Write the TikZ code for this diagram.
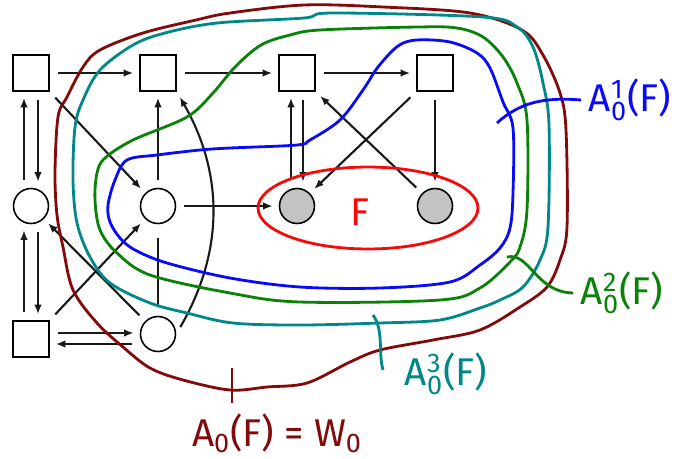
\documentclass[tikz,border=0pt]{standalone}
\usepackage{fontspec}
\setsansfont{Fira Sans}
\setmathsf{Fira Sans}
\usetikzlibrary{arrows.meta,shapes.geometric,calc}
\definecolor{aoneclr}{RGB}{10,10,250}
\definecolor{atwoclr}{RGB}{10,130,10}
\definecolor{athrclr}{RGB}{0,135,135}
\definecolor{wzclr}{RGB}{130,10,10}
\definecolor{fclr}{RGB}{245,10,10}
\definecolor{tgtclr}{RGB}{195,195,195}
\tikzset{
  vsq/.style={rectangle,draw,line width=0.9pt,minimum size=7.2mm,inner sep=0pt},
  vci/.style={circle,draw,line width=0.9pt,minimum size=7mm,inner sep=0pt},
  vtgt/.style={vci,fill=tgtclr},
  edge/.style={-{Latex[length=1.9mm,width=1.5mm]},line width=1.2pt,black!90,
               shorten <=1.6mm,shorten >=1.2mm},
  bound/.style={line width=1.6pt},
  setf/.style={ellipse,draw=fclr,line width=1.6pt,minimum width=4.4cm,
               minimum height=1.64cm,inner sep=0pt},
  lab/.style={font=\sffamily\fontsize{22}{26}\selectfont,inner sep=0pt},
}
\newcommand{\attr}[2]{$\mathsf{A}^{\mathsf{#1}}_{\mathsf{0}}$(#2)}

\begin{document}
\begin{tikzpicture}[x=0.02cm,y=-0.02cm]
\useasboundingbox (0,0) rectangle (681,458);

% Vertices
\node[vsq] (s1) at (31,73) {};
\node[vsq] (s2) at (158,73) {};
\node[vsq] (s3) at (297,73) {};
\node[vsq] (s4) at (435,73) {};
\node[vci] (c1) at (31,206) {};
\node[vci] (c2) at (158,206) {};
\node[vtgt] (t1) at (297,206) {};
\node[vtgt] (t2) at (435,206) {};
\node[vsq] (s5) at (31,339) {};
\node[vci] (c3) at (158,334) {};

% Moves
\draw[edge] (s1) -- (s2);
\draw[edge] (s2) -- (s3);
\draw[edge] (s3) -- (s4);
\draw[edge] ([xshift=-1.4mm]c1.north) -- ([xshift=-1.4mm]s1.south);
\draw[edge] ([xshift=1.4mm]s1.south) -- ([xshift=1.4mm]c1.north);
\draw[edge] ([xshift=-1.4mm]s5.north) -- ([xshift=-1.4mm]c1.south);
\draw[edge] ([xshift=1.4mm]c1.south) -- ([xshift=1.4mm]s5.north);
\draw[edge] ($(s5.east)+(0,-6)$) -- ($(s5.east -| c3.west)+(0,-6)$);
\draw[edge] ($(s5.east -| c3.west)+(0,5)$) -- ($(s5.east)+(0,5)$);
\draw[edge] (s1.south east) -- (c2.north west);
\draw[edge] (s5.north east) -- (c2.south west);
\draw[edge] (c3.north west) -- (c1.south east);
\draw[edge] (c2) -- (s2);
\draw[edge,-,shorten <=2mm,shorten >=2.8mm] (c3) -- (c2);
\draw[edge] (c3.east) to[bend right=30] (s2.south east);
\draw[edge] (c2) -- (t1);
\draw[edge] ([xshift=-1.2mm]t1.north) -- ([xshift=-1.2mm]s3.south);
\draw[edge] ([xshift=1.2mm]s3.south) -- ([xshift=1.2mm]t1.north);
\draw[edge] (s4.south west) -- (t1.north east);
\draw[edge] (t2.north west) -- (s3.south east);
\draw[edge] (s4) -- (t2);

% Attractor layers
\draw[bound,wzclr] plot[smooth cycle,tension=0.55] coordinates {
  (55,173) (58,117) (67,97) (83,67) (100,50) (143,33) (196,20) (230,13)
  (304,5) (383,7) (470,13) (522,30) (543,55) (560,93) (566,130) (567,227)
  (560,260) (547,287) (520,307) (480,330) (433,340) (380,350) (350,362)
  (307,383) (267,387) (230,390) (183,380) (150,368) (123,347) (97,323)
  (73,290) (63,247) (57,215)};
\draw[bound,athrclr] plot[smooth cycle,tension=0.55] coordinates {
  (73,180) (75,127) (83,100) (100,70) (133,45) (165,33) (217,23) (304,18)
  (333,13) (483,17) (517,27) (533,47) (543,83) (549,125) (548,227)
  (540,260) (523,287) (500,300) (480,308) (440,320) (380,323) (300,325)
  (233,323) (187,313) (150,303) (110,283) (90,257) (77,223)};
\draw[bound,atwoclr] plot[smooth cycle,tension=0.55] coordinates {
  (95,200) (97,173) (105,158) (133,140) (187,117) (213,93) (235,67)
  (261,45) (290,35) (320,30) (417,27) (457,28) (483,37) (503,57) (517,83)
  (527,120) (527,210) (520,247) (510,262) (480,288) (440,300) (300,302)
  (230,293) (150,275) (117,253) (100,230)};
\draw[bound,aoneclr] plot[smooth cycle,tension=0.55] coordinates {
  (110,222) (120,238) (135,250) (167,263) (230,278) (300,287) (380,288)
  (450,282) (480,265) (500,248) (510,228) (513,193) (513,128) (503,102)
  (490,68) (477,53) (450,42) (417,40) (398,46) (378,67) (363,90) (340,120)
  (310,140) (297,145) (230,148) (200,150) (157,155) (127,160) (115,180)
  (108,205)};

% Target set
\node[setf] (setF) at (368,208) {};
\node[lab,text=fclr] (flab) at (360,212) {F};

% Labels
\node[lab,text=aoneclr] (lone) at (630,100) {\attr{1}{F}};
\node[lab,text=atwoclr] (ltwo) at (622,293) {\attr{2}{F}};
\node[lab,text=athrclr] (lthr) at (446,374) {\attr{3}{F}};
\node[lab,text=wzclr] (lzero) at (277,433) {$\mathsf{A}_{\mathsf{0}}$(F) = $\mathsf{W}_{\mathsf{0}}$};

\coordinate (p1) at (497,123);
\coordinate (p2) at (507,257);
\coordinate (p3a) at (373,315);
\coordinate (p3b) at (383,370);
\coordinate (p0a) at (232,368);
\coordinate (p0b) at (232,403);
\draw[bound,aoneclr] (p1) .. controls (520,102) and (545,97) .. ([xshift=-1.5mm]lone.west);
\draw[bound,atwoclr] (p2) .. controls (530,252) and (535,292) .. ([xshift=-1.5mm]ltwo.west);
\draw[bound,athrclr] (p3a) .. controls (384,330) and (378,352) .. (p3b);
\draw[bound,wzclr] (p0a) -- (p0b);

\end{tikzpicture}
\end{document}
